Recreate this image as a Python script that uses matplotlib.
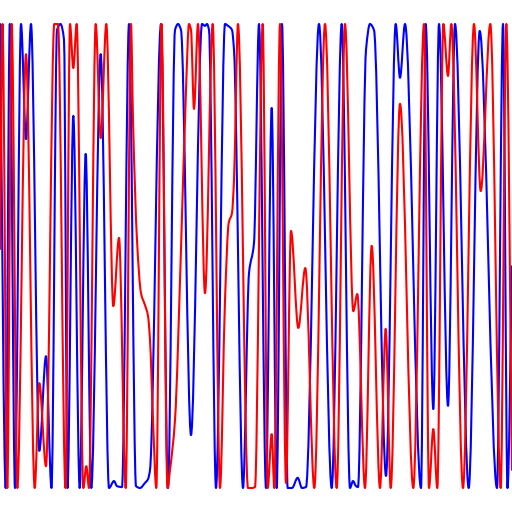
#
# Two oscillating curves, red and blue, no axes
#

import matplotlib
matplotlib.use("Agg")
from matplotlib import pyplot as plt
from matplotlib.path import Path
from matplotlib.patches import PathPatch

# blue curve: x position and level (0 = bottom, 1 = top)
blue_x = [0, 5.7, 9.8, 15, 21, 26, 31, 39.3, 46, 51.5, 57, 60.5, 64, 67.5,
          73.3, 79.7, 85.7, 91.3, 100.7, 109, 114, 117, 122, 129, 136, 140,
          145, 148, 150, 161, 168, 175, 178, 181, 191, 202, 205, 207, 209,
          216, 225, 228, 232, 234, 243, 249, 254, 259, 266, 271.7, 276.7,
          282, 287.7, 292, 297.7, 302, 306, 319, 331.7, 341.7, 350, 353, 356,
          358, 366, 370, 374, 386, 395.7, 400, 405, 421, 425.7, 433.3, 439,
          448, 455, 468.7, 479.7, 497, 503, 507.5, 512]
blue_y = [1.0, 0.0, 1.0, 0.0, 1.0, 0.752, 1.0, 0.080, 0.284, 0.0, 0.987, 1.0,
          0.966, 0.0, 0.802, 0.0, 0.720, 0.0, 0.935, 0.0, 0.015, 0.004, 0.002,
          1.0, 0.004, 0.0, 0.011, 0.019, 0.039, 1.0, 0.0, 0.987, 1.0, 0.987,
          0.114, 1.0, 0.996, 1.0, 0.987, 0.0, 1.0, 0.996, 0.987, 0.944, 0.0,
          0.463, 0.528, 1.0, 0.0, 0.819, 0.0, 1.0, 0.0, 0.0, 0.022, 0.0,
          0.002, 1.0, 0.0, 1.0, 0.0, 0.015, 0.004, 0.002, 0.944, 1.0, 0.987,
          0.026, 1.0, 0.884, 1.0, 0.0, 1.0, 0.170, 1.0, 0.177, 1.0, 0.0,
          0.985, 0.0, 1.0, 0.0, 0.478]

# red curve
red_x = [0, 2.5, 7.3, 11.7, 17.3, 26, 34.7, 39.3, 46, 54.3, 58, 65.5, 70,
         73.3, 76.7, 83.3, 86.3, 89, 95.7, 100.7, 106.3, 113.3, 119, 125.7,
         131, 133, 137, 141, 145, 148, 150, 153, 156.3, 161.5, 167.5, 170,
         175, 181, 186, 189, 191, 194, 198, 205, 212.7, 220, 225, 228.7, 232,
         234, 238, 248, 252, 255, 262.7, 267.7, 271.7, 274.3, 280, 286, 291,
         298.3, 305.3, 314.3, 325, 336.7, 345, 353.3, 357.3, 365, 371.7, 380,
         385.7, 390.7, 400, 413.3, 424, 429, 433.3, 437.3, 443.3, 448, 451.3,
         463, 474, 480.7, 490.3, 500.7, 506.3, 512]
red_y = [0.515, 1.0, 0.0, 1.0, 0.0, 0.935, 0.0, 0.226, 0.047, 1.0, 1.0, 0.0,
         1.0, 0.905, 1.0, 0.0, 0.047, 0.0, 1.0, 0.754, 1.0, 0.392, 0.539, 0.0,
         1.0, 0.793, 0.534, 0.420, 0.394, 0.371, 0.319, 0.147, 0.0, 1.0, 0.0,
         0.039, 0.147, 0.515, 0.858, 1.0, 0.987, 0.817, 1.0, 0.420, 1.0, 0.0,
         0.405, 0.571, 0.593, 0.664, 1.0, 0.0, 0.0, 0.002, 1.0, 0.0, 0.116,
         0.0, 1.0, 0.011, 0.554, 0.345, 0.474, 0.0, 1.0, 0.0, 1.0, 0.381,
         0.418, 0.0, 0.522, 0.0, 0.343, 0.0, 0.828, 0.0, 1.0, 0.0, 0.127, 0.0,
         1.0, 0.888, 1.0, 0.0, 1.0, 0.640, 1.0, 0.0, 1.0, 0.039]


def smooth_path(xs, ys):
    # monotone cubic (pchip-like) through the points, as bezier segments
    n = len(xs)
    h = [xs[i + 1] - xs[i] for i in range(n - 1)]
    d = [(ys[i + 1] - ys[i]) / h[i] for i in range(n - 1)]
    m = [0.0] * n
    m[0], m[-1] = d[0], d[-1]
    for k in range(1, n - 1):
        if d[k - 1] * d[k] <= 0:
            m[k] = 0.0
        else:
            w1 = 2 * h[k] + h[k - 1]
            w2 = h[k] + 2 * h[k - 1]
            m[k] = (w1 + w2) / (w1 / d[k - 1] + w2 / d[k])
    verts = [(xs[0], ys[0])]
    codes = [Path.MOVETO]
    for i in range(n - 1):
        verts += [(xs[i] + h[i] / 3, ys[i] + m[i] * h[i] / 3),
                  (xs[i + 1] - h[i] / 3, ys[i + 1] - m[i + 1] * h[i] / 3),
                  (xs[i + 1], ys[i + 1])]
        codes += [Path.CURVE4] * 3
    return Path(verts, codes)


fig = plt.figure(figsize=(5.12, 5.12), dpi=100)
ax = fig.add_axes([0, 0, 1, 1])
for xs, ys, col in [(blue_x, blue_y, "blue"), (red_x, red_y, "red")]:
    ax.add_patch(PathPatch(smooth_path(xs, ys), fill=False, edgecolor=col,
                           lw=1.5, joinstyle="round", capstyle="round"))
ax.set_xlim(0, 512)
ax.set_ylim(-24 / 464, 1 + 24 / 464)
ax.axis("off")
fig.savefig("out.png", dpi=100)
